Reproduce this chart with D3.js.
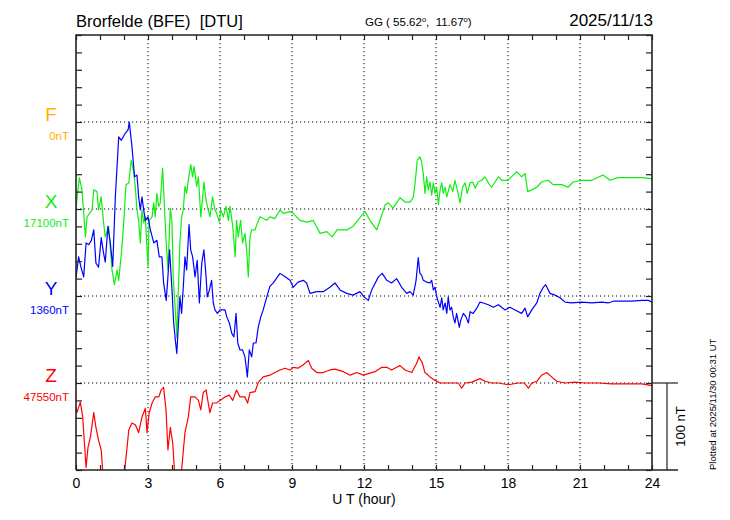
<!DOCTYPE html>
<html>
<head>
<meta charset="utf-8">
<script src="https://cdn.jsdelivr.net/npm/d3@7"></script>
<style>
  body { margin: 0; background: #fff; }
  svg { font-family: "Liberation Sans", Arial, sans-serif; }
</style>
</head>
<body>
<svg width="730" height="520"></svg>
<script>
// baselines of each component (nT) and their place on the stacked chart
const components = ['F', 'X', 'Y', 'Z']
const baseLabels = ['0nT', '17100nT', '1360nT', '47550nT']
const bases = [0, 17100, 1360, 47550]
const levelOffsets = [0, -100, -200, -300]
const hourTicks = [0, 3, 6, 9, 12, 15, 18, 21, 24]

// X component: [UT hour, nT]
const xData = [[0, 17101], [0.14, 17136], [0.25, 17122], [0.39, 17068], [0.46, 17091], [0.67, 17099], [0.74, 17122], [0.875, 17120],
  [0.94, 17099], [1.05, 17114], [1.15, 17084], [1.22, 17068], [1.36, 17080], [1.5, 17030], [1.6, 17013], [1.71, 17030], [1.78, 17018],
  [1.89, 17049], [1.99, 17084], [2.08, 17128], [2.2, 17130], [2.3, 17156], [2.4, 17143], [2.47, 17126], [2.54, 17099], [2.61, 17087],
  [2.68, 17061], [2.75, 17099], [2.82, 17084], [2.89, 17091], [2.96, 17053], [3.0, 17034], [3.05, 17087], [3.17, 17091], [3.24, 17107],
  [3.3, 17091], [3.37, 17118], [3.44, 17103], [3.51, 17107], [3.61, 17147], [3.69, 17099], [3.76, 17061], [3.83, 17030], [3.93, 17101],
  [4.0, 17084], [4.05, 17022], [4.17, 16969], [4.2, 16952], [4.33, 17061], [4.4, 17091], [4.47, 17099], [4.54, 17126], [4.61, 17118],
  [4.68, 17133], [4.78, 17151], [4.86, 17137], [4.92, 17149], [5.03, 17126], [5.1, 17137], [5.2, 17091], [5.28, 17114], [5.33, 17131],
  [5.42, 17110], [5.51, 17099], [5.58, 17091], [5.69, 17114], [5.79, 17099], [5.86, 17095], [5.97, 17085], [6.03, 17099], [6.14, 17091],
  [6.25, 17103], [6.35, 17087], [6.42, 17103], [6.53, 17080], [6.63, 17045], [6.69, 17087], [6.76, 17068], [6.86, 17087], [6.94, 17061],
  [7.04, 17072], [7.11, 17053], [7.18, 17022], [7.25, 17068], [7.32, 17076], [7.46, 17076], [7.56, 17084], [7.67, 17091], [7.81, 17089],
  [7.95, 17087], [8.08, 17091], [8.29, 17089], [8.5, 17099], [8.64, 17095], [8.92, 17097], [9.05, 17095], [9.33, 17087], [9.63, 17085],
  [9.88, 17087], [10.17, 17072], [10.45, 17074], [10.67, 17068], [10.88, 17076], [11.29, 17076], [11.54, 17080], [11.83, 17090],
  [12.04, 17097], [12.25, 17087], [12.53, 17076], [12.67, 17087], [12.88, 17105], [13.01, 17107], [13.21, 17101], [13.5, 17113],
  [13.71, 17108], [13.92, 17108], [14.05, 17113], [14.13, 17130], [14.22, 17156], [14.33, 17160], [14.4, 17154], [14.47, 17141],
  [14.54, 17118], [14.61, 17137], [14.68, 17122], [14.75, 17131], [14.82, 17116], [14.89, 17130], [14.96, 17118], [15.03, 17125],
  [15.1, 17105], [15.17, 17122], [15.24, 17130], [15.3, 17118], [15.38, 17125], [15.45, 17114], [15.58, 17128], [15.7, 17120],
  [15.79, 17133], [15.89, 17122], [16.0, 17107], [16.11, 17125], [16.21, 17130], [16.3, 17118], [16.42, 17130], [16.53, 17131],
  [16.63, 17124], [16.76, 17131], [16.9, 17133], [17.04, 17137], [17.18, 17130], [17.32, 17125], [17.46, 17131], [17.6, 17137],
  [17.74, 17133], [18.0, 17133], [18.36, 17143], [18.57, 17137], [18.71, 17141], [18.82, 17120], [18.99, 17122], [19.2, 17125],
  [19.4, 17131], [19.67, 17133], [19.88, 17128], [20.24, 17128], [20.5, 17125], [20.71, 17131], [21.07, 17133], [21.49, 17133],
  [21.96, 17139], [22.25, 17133], [22.58, 17136], [23.15, 17136], [23.57, 17136], [23.99, 17135], [24, 17132]]

// Y component: [UT hour, nT]
const yData = [[0, 1381], [0.11, 1405], [0.21, 1393], [0.32, 1382], [0.42, 1421], [0.53, 1419], [0.64, 1424], [0.74, 1436], [0.83, 1398],
  [0.94, 1393], [1.05, 1427], [1.15, 1409], [1.22, 1399], [1.33, 1440], [1.43, 1421], [1.53, 1394], [1.64, 1474], [1.78, 1543],
  [1.89, 1539], [2.05, 1547], [2.17, 1551], [2.22, 1560], [2.33, 1532], [2.44, 1497], [2.54, 1499], [2.61, 1474], [2.68, 1459],
  [2.75, 1474], [2.82, 1459], [2.89, 1447], [3.0, 1451], [3.1, 1436], [3.24, 1421], [3.37, 1424], [3.47, 1405], [3.58, 1405],
  [3.65, 1375], [3.76, 1355], [3.83, 1382], [3.9, 1413], [4.0, 1367], [4.07, 1329], [4.14, 1309], [4.2, 1294], [4.26, 1324],
  [4.33, 1359], [4.4, 1340], [4.47, 1370], [4.54, 1405], [4.61, 1390], [4.71, 1442], [4.78, 1413], [4.86, 1405], [4.96, 1382],
  [5.05, 1401], [5.14, 1352], [5.24, 1398], [5.33, 1413], [5.42, 1382], [5.47, 1359], [5.56, 1367], [5.65, 1378], [5.72, 1352],
  [5.79, 1344], [5.89, 1340], [6.0, 1344], [6.11, 1344], [6.21, 1344], [6.28, 1336], [6.39, 1329], [6.49, 1317], [6.58, 1313],
  [6.67, 1340], [6.74, 1306], [6.83, 1298], [6.94, 1298], [7.04, 1290], [7.14, 1267], [7.22, 1298], [7.32, 1290], [7.39, 1306],
  [7.5, 1306], [7.6, 1325], [7.7, 1336], [7.8, 1344], [7.95, 1359], [8.08, 1371], [8.22, 1375], [8.5, 1386], [8.71, 1382],
  [8.92, 1378], [9.05, 1370], [9.25, 1376], [9.47, 1378], [9.61, 1375], [9.75, 1363], [10.03, 1365], [10.3, 1365], [10.58, 1370],
  [10.79, 1375], [11.0, 1367], [11.28, 1363], [11.55, 1361], [11.83, 1365], [12.0, 1359], [12.18, 1355], [12.32, 1367], [12.6, 1382],
  [12.76, 1386], [12.95, 1378], [13.15, 1375], [13.36, 1380], [13.57, 1370], [13.78, 1363], [13.92, 1365], [14.05, 1361], [14.17, 1378],
  [14.26, 1404], [14.33, 1386], [14.4, 1384], [14.47, 1378], [14.61, 1376], [14.75, 1375], [14.82, 1378], [14.89, 1367], [14.96, 1370],
  [15.03, 1359], [15.1, 1353], [15.17, 1347], [15.24, 1358], [15.3, 1344], [15.38, 1352], [15.45, 1340], [15.51, 1359], [15.58, 1344],
  [15.65, 1347], [15.72, 1336], [15.79, 1329], [15.86, 1340], [15.97, 1324], [16.03, 1332], [16.14, 1340], [16.25, 1336], [16.35, 1329],
  [16.42, 1342], [16.55, 1340], [16.7, 1346], [16.83, 1353], [16.97, 1352], [17.18, 1350], [17.39, 1347], [17.6, 1350], [17.88, 1344],
  [18.08, 1347], [18.29, 1344], [18.57, 1340], [18.71, 1346], [18.82, 1336], [18.99, 1344], [19.2, 1352], [19.33, 1363], [19.47, 1370],
  [19.57, 1373], [19.75, 1363], [19.96, 1361], [20.17, 1358], [20.38, 1353], [20.65, 1352], [21.07, 1353], [21.49, 1352], [21.9, 1353],
  [22.18, 1352], [22.39, 1354], [22.74, 1354], [23.15, 1354], [23.57, 1355], [23.85, 1355], [24, 1353]]

// Z component: [UT hour, nT]
const zData = [[0, 47522], [0.04, 47516], [0.18, 47528], [0.28, 47511], [0.35, 47481], [0.42, 47453], [0.5, 47476], [0.6, 47488],
  [0.74, 47516], [0.83, 47499], [0.94, 47484], [1.05, 47473], [1.11, 47450], [1.3, 47420], [1.6, 47405], [1.85, 47420], [2.03, 47450],
  [2.2, 47496], [2.33, 47504], [2.47, 47502], [2.61, 47493], [2.75, 47511], [2.89, 47521], [2.96, 47493], [3.05, 47516], [3.17, 47527],
  [3.3, 47534], [3.45, 47534], [3.55, 47542], [3.65, 47545], [3.75, 47519], [3.83, 47473], [3.93, 47499], [4.03, 47481], [4.1, 47450],
  [4.25, 47420], [4.4, 47450], [4.54, 47493], [4.68, 47511], [4.78, 47534], [4.96, 47534], [5.1, 47530], [5.2, 47519], [5.3, 47539],
  [5.42, 47542], [5.51, 47527], [5.58, 47516], [5.69, 47527], [5.86, 47527], [6.0, 47530], [6.21, 47534], [6.39, 47536], [6.53, 47530],
  [6.69, 47542], [6.83, 47534], [7.04, 47534], [7.15, 47527], [7.25, 47539], [7.46, 47540], [7.6, 47551], [7.8, 47557], [8.08, 47559],
  [8.29, 47562], [8.5, 47565], [8.71, 47567], [8.92, 47565], [9.05, 47568], [9.25, 47567], [9.47, 47571], [9.68, 47576], [9.82, 47567],
  [10.03, 47562], [10.3, 47562], [10.58, 47565], [10.79, 47566], [11.14, 47563], [11.42, 47559], [11.7, 47562], [11.97, 47559],
  [12.46, 47563], [12.74, 47568], [12.95, 47568], [13.15, 47565], [13.36, 47568], [13.5, 47570], [13.71, 47565], [13.99, 47562],
  [14.2, 47573], [14.29, 47580], [14.43, 47573], [14.54, 47562], [14.75, 47557], [14.96, 47553], [15.17, 47550], [15.38, 47550],
  [15.65, 47550], [15.93, 47550], [16.07, 47544], [16.21, 47550], [16.49, 47551], [16.83, 47555], [17.04, 47552], [17.32, 47550],
  [17.6, 47550], [18.01, 47548], [18.43, 47550], [18.68, 47550], [18.85, 47544], [18.99, 47550], [19.2, 47552], [19.4, 47559],
  [19.61, 47562], [19.82, 47557], [20.03, 47552], [20.38, 47550], [20.79, 47551], [21.21, 47550], [21.76, 47550], [22.32, 47549],
  [23.01, 47549], [23.57, 47549], [24, 47547]]

const colors = ['#ffb000', '#10ee10', '#0000ff', '#ff0000']

const plotL = 76, plotR = 652, plotT = 35, plotB = 470

const svg = d3.select('svg')

const xScale = d3.scaleLinear().domain([0, 24]).range([plotL, plotR])
// stacked nT scale: F level at 0, each next level 100 nT lower
const yScale = d3.scaleLinear().domain([-400, 100]).range([plotB, plotT])

svg.append('defs').append('clipPath').attr('id', 'plot')
  .append('rect')
  .attr('x', plotL).attr('y', plotT)
  .attr('width', plotR - plotL).attr('height', plotB - plotT)

// dotted grid
const grid = svg.append('g')
  .attr('stroke', '#000')
  .attr('stroke-width', 1)
  .attr('stroke-dasharray', '1.2,2.8')
grid.selectAll('line.v')
  .data(hourTicks.slice(1, -1))
  .enter().append('line')
  .attr('x1', d => xScale(d)).attr('x2', d => xScale(d))
  .attr('y1', plotT).attr('y2', plotB)
grid.selectAll('line.h')
  .data(levelOffsets)
  .enter().append('line')
  .attr('x1', plotL).attr('x2', plotR)
  .attr('y1', d => yScale(d)).attr('y2', d => yScale(d))

// traces
const chart = svg.append('g').attr('clip-path', 'url(#plot)')
const series = [
  { data: xData, i: 1 },
  { data: yData, i: 2 },
  { data: zData, i: 3 }
]
series.forEach(s => {
  chart.append('path')
    .datum(s.data)
    .attr('fill', 'none')
    .attr('stroke', colors[s.i])
    .attr('stroke-width', 1.2)
    .attr('stroke-linejoin', 'round')
    .attr('d', d3.line()
      .x(d => xScale(d[0]))
      .y(d => yScale(d[1] - bases[s.i] + levelOffsets[s.i])))
})

// axes with inward ticks
const hours = d3.range(0, 25)
const nTicks = d3.range(-400, 101, 20)

const axB = svg.append('g')
  .attr('transform', `translate(0, ${plotB})`)
  .call(d3.axisBottom(xScale).tickValues(hours).tickSizeInner(-5).tickSizeOuter(0).tickPadding(8)
    .tickFormat(d => d % 3 === 0 ? d : ''))
axB.select('.domain').remove()
axB.selectAll('text').attr('font-size', 14).attr('font-family', 'Liberation Sans, Arial, sans-serif').attr('fill', '#000')

const axT = svg.append('g')
  .attr('transform', `translate(0, ${plotT})`)
  .call(d3.axisTop(xScale).tickValues(hours).tickSizeInner(-5).tickSizeOuter(0).tickFormat(''))
axT.select('.domain').remove()

const axL = svg.append('g')
  .attr('transform', `translate(${plotL}, 0)`)
  .call(d3.axisLeft(yScale).tickValues(nTicks).tickSizeInner(-6).tickSizeOuter(0).tickFormat(''))
axL.select('.domain').remove()

const axR = svg.append('g')
  .attr('transform', `translate(${plotR}, 0)`)
  .call(d3.axisRight(yScale).tickValues(nTicks).tickSizeInner(-6).tickSizeOuter(0).tickFormat(''))
axR.select('.domain').remove()

svg.selectAll('.tick line').attr('stroke', '#222').attr('stroke-width', 1.2)

// frame
const frame = svg.append('g').attr('stroke', '#222').attr('stroke-width', 1.6).attr('fill', 'none')
frame.append('path').attr('d', `M${plotL},${plotB}V${plotT}H${plotR}V${plotB}`)
frame.append('line').attr('x1', plotL).attr('x2', 678).attr('y1', plotB).attr('y2', plotB)

// 100 nT scale bar
frame.append('line').attr('x1', plotR).attr('x2', 678)
  .attr('y1', yScale(levelOffsets[3])).attr('y2', yScale(levelOffsets[3]))
  .attr('stroke-width', 1.2)
frame.append('line').attr('x1', 667).attr('x2', 667)
  .attr('y1', yScale(levelOffsets[3])).attr('y2', yScale(levelOffsets[3] - 100))
  .attr('stroke-width', 1.2)
svg.append('text')
  .attr('transform', `translate(685, ${yScale(levelOffsets[3] - 50)}) rotate(-90)`)
  .attr('text-anchor', 'middle')
  .attr('font-size', 13)
  .text('100 nT')

svg.append('text')
  .attr('transform', `translate(716, ${plotB}) rotate(-90)`)
  .attr('font-size', 9.5)
  .text('Plotted at 2025/11/30 00:31 UT')

// component labels
components.forEach((c, i) => {
  const y = yScale(levelOffsets[i])
  svg.append('text')
    .attr('x', 51).attr('y', y - 1)
    .attr('text-anchor', 'middle')
    .attr('font-size', 19)
    .attr('fill', colors[i])
    .text(c)
  svg.append('text')
    .attr('x', 69).attr('y', y + 18)
    .attr('text-anchor', 'end')
    .attr('font-size', 11.5)
    .attr('fill', colors[i])
    .text(baseLabels[i])
})

// titles
svg.append('text')
  .attr('x', plotL).attr('y', 27)
  .attr('font-size', 16.5)
  .style('white-space', 'pre')
  .text('Brorfelde (BFE)  [DTU]')

const gg = svg.append('text')
  .attr('x', 365).attr('y', 26)
  .attr('font-size', 11.5)
  .style('white-space', 'pre')
gg.append('tspan').text('GG ( 55.62')
gg.append('tspan').attr('font-size', 7.5).attr('dy', -4).text('o')
gg.append('tspan').attr('dy', 4).text(',  11.67')
gg.append('tspan').attr('font-size', 7.5).attr('dy', -4).text('o')
gg.append('tspan').attr('dy', 4).text(')')

svg.append('text')
  .attr('x', 653).attr('y', 26)
  .attr('text-anchor', 'end')
  .attr('font-size', 17)
  .text('2025/11/13')

svg.append('text')
  .attr('x', xScale(12)).attr('y', 504)
  .attr('text-anchor', 'middle')
  .attr('font-size', 14)
  .style('white-space', 'pre')
  .text('U T (hour)')
</script>
</body>
</html>
